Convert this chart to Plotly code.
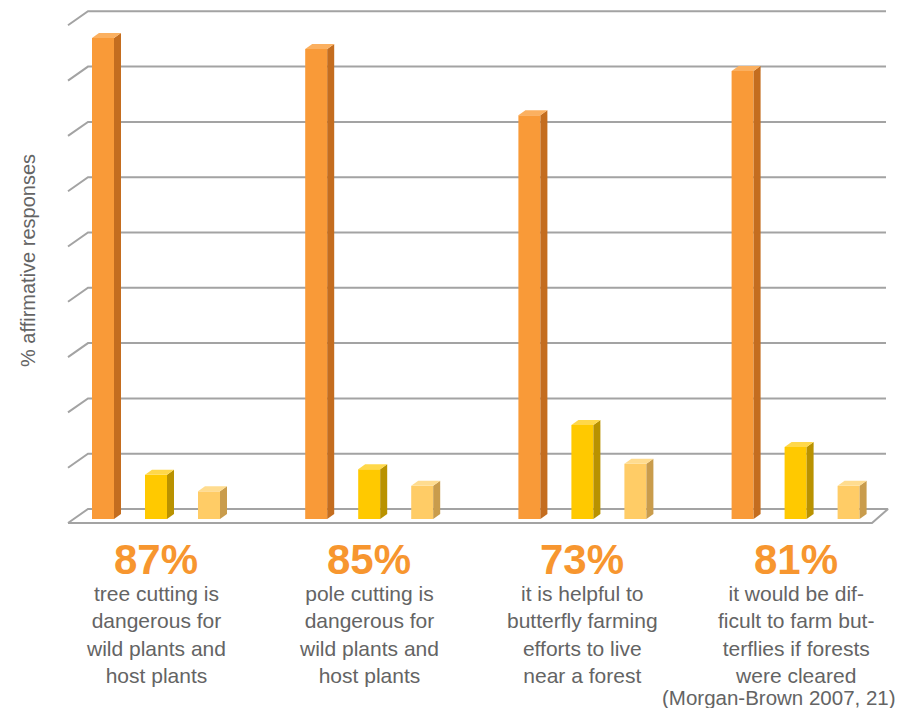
import plotly.graph_objects as go

# ---------------- data ----------------
categories = [
    "tree cutting is<br>dangerous for<br>wild plants and<br>host plants",
    "pole cutting is<br>dangerous for<br>wild plants and<br>host plants",
    "it is helpful to<br>butterfly farming<br>efforts to live<br>near a forest",
    "it would be dif-<br>ficult to farm but-<br>terflies if forests<br>were cleared",
]
headline = ["87%", "85%", "73%", "81%"]
series_orange = [87, 85, 73, 81]
series_yellow = [8, 9, 17, 13]
series_light = [5, 6, 10, 6]
y_ticks = [0, 10, 20, 30, 40, 50, 60, 70, 80, 90]

# ---------------- geometry (pixel scale helpers) ----------------
W, H = 899, 708
PX_X = 213.2          # pixels per category unit
PX_Y = 5.53           # pixels per percentage point
X0_PIX = 156          # pixel x of category 0
Y0_PIX = 519          # pixel y of value 0 (bar front base)

def ux(px):
    return px / PX_X

def uy(px):
    return px / PX_Y

def X(px):
    return (px - X0_PIX) / PX_X

def Y(py):
    return (Y0_PIX - py) / PX_Y

x_range = [X(0), X(W)]
y_range = [Y(H), Y(0)]

bar_w = ux(22)
slot = ux(53)
bdx, bdy = ux(7), uy(5)       # bar depth
wdx, wdy = ux(20), uy(14)     # wall depth

fig = go.Figure()

# ---------------- floor & grid (bottom subplot x/y) ----------------
floor_front_y = -uy(4)
floor_left = X(68)
floor_right = X(872)
grid_col = "#a3a3a3"
fig.add_trace(go.Scatter(
    x=[floor_left, floor_left + wdx, floor_right + wdx * 0.8, floor_right, floor_left],
    y=[floor_front_y, floor_front_y + wdy, floor_front_y + wdy, floor_front_y, floor_front_y],
    mode="lines", fill="toself", fillcolor="#ffffff",
    line=dict(color=grid_col, width=2), hoverinfo="skip", showlegend=False))

for t in y_ticks[1:]:
    yb = floor_front_y + wdy + t * 55.3 / 10 / PX_Y
    yf = yb - wdy
    fig.add_trace(go.Scatter(
        x=[floor_left, floor_left + wdx, X(886)],
        y=[yf, yb, yb], mode="lines",
        line=dict(color=grid_col, width=2), hoverinfo="skip", showlegend=False))

# ---------------- bars (overlay subplot x2/y2, drawn on top) ----------------
styles = [
    (series_orange, "#f99a38", "#c46d1f", "#fbb060", -1),
    (series_yellow, "#ffc900", "#b99200", "#ffd84a", 0),
    (series_light, "#ffcc66", "#c99c4c", "#ffdc8f", 1),
]
for vals, front, side, top, k in styles:
    xs = [i + k * slot for i in range(len(vals))]
    fig.add_trace(go.Bar(x=xs, y=vals, width=bar_w, marker=dict(color=front, line=dict(width=0)),
                         showlegend=False, hoverinfo="skip", xaxis="x2", yaxis="y2"))
    for xc, v in zip(xs, vals):
        xl, xr = xc - bar_w / 2, xc + bar_w / 2
        fig.add_trace(go.Scatter(
            x=[xr, xr + bdx, xr + bdx, xr, xr], y=[0, bdy, v + bdy, v, 0],
            mode="lines", fill="toself", fillcolor=side, line=dict(width=0, color=side),
            hoverinfo="skip", showlegend=False, xaxis="x2", yaxis="y2"))
        fig.add_trace(go.Scatter(
            x=[xl, xl + bdx, xr + bdx, xr, xl], y=[v, v + bdy, v + bdy, v, v],
            mode="lines", fill="toself", fillcolor=top, line=dict(width=0, color=top),
            hoverinfo="skip", showlegend=False, xaxis="x2", yaxis="y2"))

# ---------------- text ----------------
font_fam = "Liberation Sans, Arial, sans-serif"
for i, (h, c) in enumerate(zip(headline, categories)):
    fig.add_annotation(x=i, y=Y(559), text="<b>%s</b>" % h, showarrow=False,
                       font=dict(family=font_fam, size=42, color="#f7962f"),
                       xanchor="center", yanchor="middle")
    fig.add_annotation(x=i, y=Y(580), text=c, showarrow=False,
                       font=dict(family=font_fam, size=21, color="#646464"),
                       xanchor="center", yanchor="top", align="center")

fig.add_annotation(x=X(897), y=Y(697), text="(Morgan-Brown 2007, 21)",
                   showarrow=False, font=dict(family=font_fam, size=20.5, color="#646464"),
                   xanchor="right", yanchor="middle", borderpad=0)

fig.add_annotation(x=X(28), y=Y(261), text="% affirmative responses",
                   textangle=-90, showarrow=False,
                   font=dict(family=font_fam, size=20, color="#646464"),
                   xanchor="center", yanchor="middle")

fig.update_layout(
    width=W, height=H, margin=dict(l=0, r=0, t=0, b=0),
    paper_bgcolor="white", plot_bgcolor="rgba(0,0,0,0)",
    barmode="overlay",
    xaxis=dict(range=x_range, visible=False, fixedrange=True),
    yaxis=dict(range=y_range, visible=False, fixedrange=True),
    xaxis2=dict(range=x_range, visible=False, fixedrange=True, overlaying="x"),
    yaxis2=dict(range=y_range, visible=False, fixedrange=True, overlaying="y"),
)

fig.write_html("out.html")
